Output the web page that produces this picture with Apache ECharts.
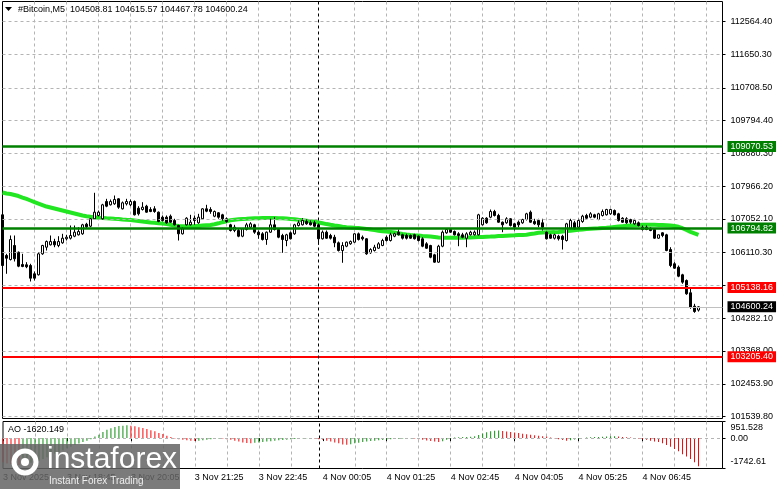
<!DOCTYPE html>
<html><head><meta charset="utf-8">
<script src="https://cdn.jsdelivr.net/npm/echarts@6/dist/echarts.min.js"></script>
<style>html,body{margin:0;padding:0;background:#fff}#c{width:781px;height:489px}</style>
</head><body><div id="c"></div>
<script>
const symbolName = '#Bitcoin,M5';
// [open, close, low, high] per M5 bar, from 3 Nov 17:25
const candlesOCLH = [
[107166,105752,105501,107194],[106031,105955,105521,106078],[105919,106477,105892,106589],[106310,105939,105864,106589],
[106123,105733,105705,106142],[105780,105725,105705,106078],[105772,105716,105677,105845],[105752,105398,105306,105800],
[105521,105398,105334,105585],[105493,106078,105473,106123],[106078,106310,106050,106329],[106262,106421,106170,106449],
[106329,106421,106310,106589],[106421,106329,106262,106497],[106310,106421,106262,106569],[106385,106513,106357,106636],
[106497,106541,106449,106608],[106513,106589,106477,106868],[106569,106681,106541,106868],[106608,106700,106589,106820],
[106636,106887,106608,106915],[106904,106831,106792,106943],[106848,107055,106820,107071],[107055,107239,107035,107780],
[107147,107239,107119,107286],[107055,107445,107035,107473],[107537,107406,107378,107612],[107445,107537,107426,107593],
[107473,107593,107445,107704],[107612,107378,107333,107629],[107333,107501,107314,107537],[107473,107537,107426,107612],
[107445,107537,107406,107593],[107537,107166,107147,107565],[107350,107194,107147,107406],[107314,107378,107286,107518],
[107406,107239,107222,107445],[107314,107258,107239,107378],[107333,107258,107222,107406],[107239,106979,106960,107258],
[107099,107007,106979,107147],[107099,106943,106915,107147],[107127,106960,106943,107174],[107007,106887,106868,107055],
[106868,106636,106449,106887],[106636,106775,106616,106820],[106887,107071,106868,107099],[106887,106960,106868,107166],
[107071,107007,106887,107147],[106943,107099,106915,107194],[107055,107333,107035,107350],[107333,107267,107239,107445],
[107314,107258,107194,107378],[107127,107258,107099,107286],[107222,107099,107055,107239],[107166,107055,107007,107194],
[107055,106979,106943,107091],[106887,106728,106700,106915],[106728,106820,106681,106887],[106728,106569,106541,106775],
[106569,106775,106541,106792],[106756,106887,106728,106943],[106820,106915,106775,106960],[106887,106681,106636,106915],
[106681,106608,106497,106728],[106636,106477,106449,106681],[106477,106681,106329,106700],[106681,106887,106664,107055],
[106887,106756,106728,107099],[106756,106541,106513,106775],[106589,106477,106106,106636],[106449,106608,106290,106636],
[106664,106497,106477,106700],[106636,106887,106608,106915],[106868,106943,106840,107007],[106887,107007,106868,107071],
[106979,106915,106887,107035],[106943,106887,106868,107007],[106943,106848,106820,106999],[106887,106497,106329,106915],
[106497,106681,106477,106728],[106681,106513,106497,106728],[106589,106513,106477,106636],[106541,106385,106262,106608],
[106385,106170,106142,106421],[106170,106310,105828,106402],[106290,106402,106262,106421],[106357,106421,106329,106449],
[106402,106636,106385,106653],[106636,106477,106449,106672],[106541,106497,106449,106589],[106497,106078,106050,106513],
[106106,106198,106078,106234],[106170,106262,106142,106329],[106234,106357,106217,106402],[106310,106449,106290,106497],
[106541,106449,106421,106589],[106449,106608,106421,106664],[106569,106636,106541,106664],[106681,106608,106589,106756],
[106608,106513,106477,106636],[106589,106513,106477,106636],[106589,106513,106497,106616],[106608,106497,106477,106636],
[106569,106449,106421,106589],[106497,106290,106262,106541],[106357,106234,106217,106402],[106310,105983,105955,106329],
[106050,105845,105828,106078],[105845,106290,105828,106329],[106290,106681,106262,106728],[106664,106756,106636,106792],
[106756,106681,106664,106775],[106700,106608,106589,106728],[106636,106589,106290,106681],[106608,106541,106513,106664],
[106513,106636,106262,106681],[106608,106681,106589,106720],[106608,106681,106589,106728],[106608,107166,106589,107194],
[106887,107071,106868,107099],[107071,106943,106915,107099],[107099,107258,107071,107314],[107258,107147,107119,107305],
[107147,106960,106943,107194],[106960,106887,106681,106979],[106943,107055,106915,107099],[107055,106868,106840,107071],
[106915,106820,106728,106943],[106960,106887,106820,107007],[106943,107035,106915,107055],[107035,107194,107007,107222],
[107239,106960,106943,107286],[106979,106915,106887,107055],[107007,106887,106820,107055],[106943,106820,106728,107055],
[106681,106497,106477,106700],[106608,106513,106497,106636],[106513,106608,106477,106636],[106569,106497,106449,106608],
[106569,106477,106198,106608],[106449,106915,106421,106943],[106792,107007,106775,107055],[106943,106775,106756,106999],
[106820,107007,106792,107055],[106979,107127,106943,107166],[107147,107071,107055,107194],[107099,107194,107071,107239],
[107166,107099,107071,107194],[107035,107194,107016,107222],[107147,107258,107119,107314],[107166,107314,107147,107333],
[107194,107314,107166,107333],[107286,107166,107147,107314],[107194,107007,106979,107222],[107071,106960,106943,107099],
[107055,106943,106915,107099],[107035,106960,106915,107055],[106915,107007,106887,107055],[106943,106868,106840,106979],
[106820,106756,106728,106868],[106820,106756,106737,106868],[106792,106728,106709,106820],[106756,106513,106497,106775],
[106513,106608,106497,106616],[106664,106589,106541,106681],[106608,106170,106150,106636],[106198,105752,105705,106262],
[105800,105677,105661,105845],[105705,105454,105426,105752],[105493,105287,105242,105521],[105334,104963,104935,105362],
[104991,104589,104545,105102],[104617,104469,104433,104684],[104508.81,104600.24,104467.78,104615.57]
];
const maValues = [
107788,107760,107746,107718,107690,107648,107607,107565,107523,107481,107439,107397,107370,107342,107314,107286,
107258,107230,107202,107174,107146,107127,107110,107096,107085,107077,107068,107063,107054,107046,107035,107026,
107018,107007,106993,106979,106965,106951,106943,106932,106921,106909,106890,106870,106854,106845,106845,106848,
106851,106856,106865,106873,106881,106901,106929,106960,106987,107013,107029,107040,107049,107054,107063,107068,
107071,107074,107074,107074,107074,107071,107068,107063,107052,107040,107026,107013,106999,106985,106971,106951,
106929,106907,106887,106868,106851,106834,106820,106812,106803,106795,106787,106773,106756,106739,106722,106709,
106697,106686,106672,106650,106630,106617,106605,106594,106586,106577,106569,106558,106547,106536,106527,106524,
106524,106524,106524,106527,106533,106536,106538,106544,106550,106555,106558,106564,106572,106577,106583,106589,
106594,106600,106605,106611,106628,106644,106664,106672,106678,106681,106683,106689,106700,106711,106722,106734,
106748,106759,106770,106778,106784,106789,106798,106803,106815,106826,106837,106848,106859,106868,106876,106884,
106887,106890,106890,106887,106884,106881,106876,106870,106854,106831,106792,106742,106692,106650,106608
];
const aoValues = [
-1380,-1450,-1500,-1530,-1540,-1510,-1470,-1420,-1380,-1300,-1200,-1100,-1000,-900,-800,-700,
-590,-490,-400,-310,-230,-150,-70,97,193,347,482,559,636,694,713,733,
713,674,617,578,520,444,386,289,231,135,58,-20,-60,-100,-130,-150,
-170,-150,-120,-90,-60,-40,-20,-30,-60,-100,-150,-200,-250,-280,-290,-270,
-250,-230,-200,-180,-150,-130,-110,-90,-70,-50,-30,-10,-5,-10,-30,-60,
-100,-150,-200,-250,-300,-360,-380,-350,-300,-260,-220,-190,-170,-150,-130,-110,
-90,-70,-50,-40,-20,-10,-5,-20,-60,-100,-140,-170,-200,-230,-180,-100,
-20,30,50,60,70,80,100,180,260,330,390,420,440,400,380,350,
320,290,250,220,190,160,130,110,90,40,-10,-60,-110,-150,-120,-80,
-40,0,30,50,60,70,80,90,100,110,90,70,50,30,10,-20,
-60,-100,-150,-190,-230,-290,-400,-500,-620,-760,-920,-1060,-1200,-1380,-1620.149
];
const priceTickValues = [112564.40,111650.30,110708.50,109794.40,108880.30,107966.20,107052.10,106110.30,105196.20,104282.10,103368.00,102453.90,101539.80];
const supportResistGreen = [109070.53, 106794.82];
const supportResistRed = [105138.16, 103205.40];
const aoScaleMax = 951.528, aoScaleMin = -1742.61;
const aoTickLabels = ['951.528', '0.00', '-1742.61'];
const timeTickLabels = ['3 Nov 2025','3 Nov 18:45','3 Nov 20:05','3 Nov 21:25','3 Nov 22:45','4 Nov 00:05','4 Nov 01:25','4 Nov 02:45','4 Nov 04:05','4 Nov 05:25','4 Nov 06:45'];
const barsPerLabel = 16, barsPerGrid = 8, daySeparatorBar = 79, emptyBarsRight = 6;
const priceMin = 101485, priceMax = 113115;

const N = candlesOCLH.length;
const cats = [];
for (let i = 0; i < N + emptyBarsRight; i++) cats.push(String(i));
const FONT = 'Liberation Sans';
const last = candlesOCLH[N - 1];
const fmt2 = v => v.toFixed(2);

const gridSplit = (i) => i > 0 && i % barsPerGrid === 0 && i !== daySeparatorBar + 1;
const labelIdx = (i) => i % barsPerLabel === 0 && (i / barsPerLabel) < timeTickLabels.length;

function levelLine(v, color, width) {
  return { yAxis: v, lineStyle: { color: color, width: width, type: 'solid' },
    label: { show: true, position: 'end', distance: 5, formatter: fmt2(v), color: '#fff', backgroundColor: color,
      padding: [1, 3, 1, 3], fontSize: 9, fontFamily: FONT } };
}

const aoColored = aoValues.map((v, i) => ({ value: v,
  itemStyle: { color: (i > 0 && v > aoValues[i - 1]) ? '#0a900a' : '#ff0000' } }));

const chart = echarts.init(document.getElementById('c'), null, { renderer: 'canvas' });
chart.setOption({
  animation: false,
  textStyle: { fontFamily: FONT },
  grid: [
    { left: 2.5, top: 1.5, width: 720, height: 417, show: true, borderColor: '#000', borderWidth: 1, backgroundColor: '#fff' },
    { left: 2.5, top: 421.5, width: 720, height: 47, show: true, borderColor: '#000', borderWidth: 1, backgroundColor: '#fff' }
  ],
  xAxis: [
    { type: 'category', gridIndex: 0, data: cats, boundaryGap: false, axisLine: { show: false }, axisTick: { show: false },
      axisLabel: { show: false }, splitLine: { show: true, interval: gridSplit, lineStyle: { color: '#b4b4b4', type: [3, 3] } } },
    { type: 'category', gridIndex: 1, data: cats, boundaryGap: false, axisLine: { show: false },
      axisTick: { show: true, interval: labelIdx, length: 3, lineStyle: { color: '#000' } },
      axisLabel: { show: true, interval: labelIdx, formatter: (v, i) => timeTickLabels[i / barsPerLabel], align: 'left',
        margin: 5, fontSize: 9, color: '#000', fontFamily: FONT },
      splitLine: { show: true, interval: gridSplit, lineStyle: { color: '#b4b4b4', type: [3, 3] } } }
  ],
  yAxis: [
    { type: 'value', gridIndex: 0, position: 'right', min: priceMin, max: priceMax, axisLine: { show: false }, splitLine: { show: false },
      axisTick: { show: true, customValues: priceTickValues, length: 3, lineStyle: { color: '#000' } },
      axisLabel: { customValues: priceTickValues, formatter: v => fmt2(v), margin: 8, fontSize: 9, color: '#000', fontFamily: FONT } },
    { type: 'value', gridIndex: 1, position: 'right', min: aoScaleMin, max: aoScaleMax, axisLine: { show: false }, splitLine: { show: false },
      axisTick: { show: true, customValues: [aoScaleMax, 0, aoScaleMin], length: 3, lineStyle: { color: '#000' } },
      axisLabel: { customValues: [aoScaleMax, 0, aoScaleMin], margin: 8,
        formatter: v => v > 0 ? '{t|' + aoTickLabels[0] + '}' : (v < 0 ? '{b|' + aoTickLabels[2] + '}' : '{m|' + aoTickLabels[1] + '}'),
        rich: {
          t: { fontSize: 9, color: '#000', fontFamily: FONT, padding: [12, 0, 0, 0] },
          m: { fontSize: 9, color: '#000', fontFamily: FONT },
          b: { fontSize: 9, color: '#000', fontFamily: FONT, padding: [0, 0, 13, 0] }
        } } }
  ],
  series: [
    { name: 'grid', type: 'line', xAxisIndex: 0, yAxisIndex: 0, data: cats.map(() => null), silent: true, z: 1,
      markLine: { silent: true, symbol: 'none', animation: false, label: { show: false },
        lineStyle: { color: '#b4b4b4', type: [3, 3], width: 1 },
        data: priceTickValues.map(v => ({ yAxis: v })) } },
    { name: 'MA', type: 'line', xAxisIndex: 0, yAxisIndex: 0, data: maValues, showSymbol: false, symbol: 'none', z: 2,
      lineStyle: { color: '#22e622', width: 4 } },
    { name: 'levels', type: 'line', xAxisIndex: 0, yAxisIndex: 0, data: cats.map(() => null), silent: true, z: 3,
      markLine: { silent: true, symbol: 'none', animation: false,
        data: [
          levelLine(supportResistGreen[0], '#008000', 2.5),
          levelLine(supportResistGreen[1], '#008000', 2.5),
          levelLine(supportResistRed[0], '#ff0000', 2),
          levelLine(supportResistRed[1], '#ff0000', 2),
          levelLine(last[1], '#000000', 1)
        ].map((d, k) => k === 4 ? Object.assign(d, { lineStyle: { color: '#c0c0c0', width: 1, type: 'solid' } }) : d) } },
    { name: 'Bitcoin', type: 'candlestick', xAxisIndex: 0, yAxisIndex: 0, data: candlesOCLH, barWidth: 3, z: 4,
      itemStyle: { color: '#ffffff', color0: '#000000', borderColor: '#000000', borderColor0: '#000000', borderWidth: 1 },
      markLine: { silent: true, symbol: 'none', animation: false, label: { show: false },
        lineStyle: { color: '#000', type: [3, 3], width: 1 }, data: [{ xAxis: daySeparatorBar }] } },
    { name: 'AO', type: 'bar', xAxisIndex: 1, yAxisIndex: 1, data: aoColored, barWidth: 1, z: 3,
      markLine: { silent: true, symbol: 'none', animation: false, label: { show: false },
        data: [
          { yAxis: 0, lineStyle: { color: '#b4b4b4', type: [3, 3], width: 1 } },
          { xAxis: daySeparatorBar, lineStyle: { color: '#000', type: [3, 3], width: 1 } }
        ] } }
  ],
  graphic: [
    { type: 'polygon', shape: { points: [[5, 7], [12, 7], [8.5, 11]] }, style: { fill: '#000' }, z: 100 },
    { type: 'text', x: 18, y: 10, style: { text: symbolName + '  ' + [last[0], last[3], last[2], last[1]].map(fmt2).join(' '),
        font: '9px "Liberation Sans"', fill: '#000', verticalAlign: 'middle' }, z: 100 },
    { type: 'text', x: 8, y: 430, style: { text: 'AO ' + aoValues[N - 1].toFixed(3), font: '9px "Liberation Sans"', fill: '#000', verticalAlign: 'middle' }, z: 100 },
    { type: 'group', z: 200, children: [
      { type: 'rect', shape: { x: 0, y: 444, width: 180, height: 45 }, style: { fill: 'rgba(100,100,100,0.85)' }, z: 200 },
      { type: 'circle', shape: { cx: 25, cy: 462, r: 11 }, style: { fill: 'none', stroke: '#fff', lineWidth: 5 }, z: 201 },
      { type: 'circle', shape: { cx: 25, cy: 462, r: 4 }, style: { fill: '#fff' }, z: 201 },
      { type: 'text', x: 47, y: 460, style: { text: 'instaforex', font: '30px "Liberation Sans"', fill: '#fff', verticalAlign: 'middle' }, z: 201 },
      { type: 'text', x: 49, y: 481, style: { text: 'Instant Forex Trading', font: '10px "Liberation Sans"', fill: '#eee', verticalAlign: 'middle' }, z: 201 }
    ] }
  ]
});
</script></body></html>
